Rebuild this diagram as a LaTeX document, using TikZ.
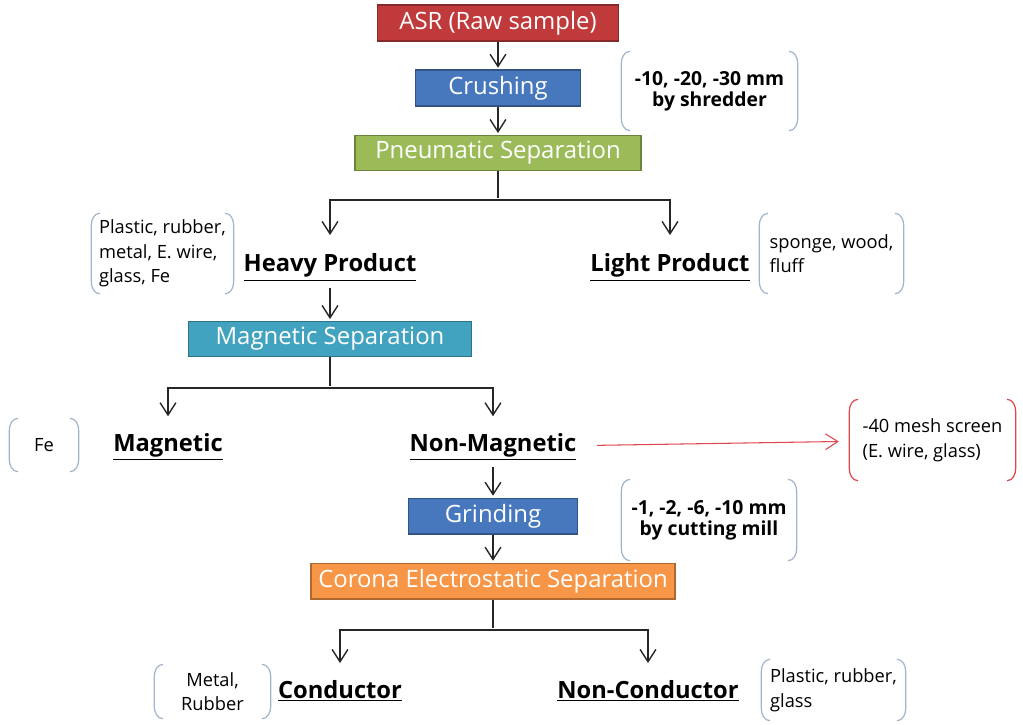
\documentclass[tikz,border=0pt]{standalone}
\usepackage{fontspec}
\setmainfont{Open Sans}
\usetikzlibrary{positioning,arrows.meta}

\definecolor{asrred}{HTML}{C03A3C}
\definecolor{stepblue}{HTML}{4778BE}
\definecolor{stepgreen}{HTML}{9BBB59}
\definecolor{stepteal}{HTML}{41A3C0}
\definecolor{steporange}{HTML}{F79646}
\definecolor{notegray}{HTML}{A3B5CC}
\definecolor{notered}{HTML}{E0474C}

\begin{document}
\begin{tikzpicture}[->,>={Straight Barb[length=7pt,width=9pt]},shorten >=1pt,node distance=1.3cm,line width=0.8pt,
    box/.style={draw=#1!70!black,fill=#1,text=white,minimum height=0.64cm,font=\fontsize{13.6}{15}\selectfont},
    product/.style={font=\fontsize{13.5}{16}\selectfont\bfseries},
    note/.style={align=left,font=\fontsize{10.4}{14}\selectfont},
    boldnote/.style={align=center,font=\fontsize{11}{12}\selectfont\bfseries},
    bracket/.style={-,shorten >=0pt,line width=0.7pt,draw=#1},
    elbow/.style={to path={-| (\tikztotarget)}}]
                \useasboundingbox (-9.96,0.46) rectangle (10.5,-14.02);

                % main chain
                \node[box=asrred, minimum width=4.82cm] (asr) at (0,0) {ASR (Raw sample)};
                \node[box=stepblue, minimum width=3.3cm] (crush) [below of = asr]{Crushing};
                \node[box=stepgreen, minimum width=5.72cm] (pneu) [below of = crush]{Pneumatic Separation};
                \node[] (x) [below of = pneu, yshift = 0.36cm]{};
                \node[product] (heavy) [below of = x, xshift = -3.36cm, yshift = -0.05cm]{\underline{Heavy Product}};
                \node[product] (light) [below of = x, xshift = 3.44cm, yshift = -0.05cm]{\underline{Light Product}};
                \node[box=stepteal, minimum width=5.66cm] (magsep) [below of = heavy, yshift = -0.13cm]{Magnetic Separation};
                \node[] (y) [below of = magsep, yshift = 0.32cm]{};
                \node[product] (magn) [below of = y, xshift = -3.24cm, yshift = 0.12cm]{\underline{Magnetic}};
                \node[product] (nonmag) [below of = y, xshift = 3.26cm, yshift = 0.12cm]{\underline{Non-Magnetic}};
                \node[box=stepblue, minimum width=3.38cm] (grind) [below of = nonmag, yshift = -0.08cm]{Grinding};
                \node[box=steporange, minimum width=7.28cm] (corona) [below of = grind]{Corona Electrostatic Separation};
                \node[] (z) [below of = corona, yshift = 0.32cm]{};
                \node[product] (cond) [below of = z, xshift = -3.06cm, yshift = 0.08cm]{\underline{Conductor}};
                \node[product] (noncond) [below of = z, xshift = 3.1cm, yshift = 0.08cm]{\underline{Non-Conductor}};

                % notes
                \node[boldnote, minimum width=3.5cm, minimum height=1.56cm] (shredder) [right of = crush, xshift = 2.93cm, yshift = -0.06cm]{-10, -20, -30 mm\\by shredder};
                \node[note, minimum width=2.82cm, minimum height=1.58cm] (heavymix) [left of = heavy, xshift = -2.05cm, yshift = 0.28cm]{Plastic, rubber,\\metal, E. wire,\\glass, Fe};
                \node[note, minimum width=2.86cm, minimum height=1.58cm] (lightmix) [right of = light, xshift = 1.93cm, yshift = 0.28cm]{sponge, wood,\\fluff};
                \node[note, minimum width=1.36cm, minimum height=1.04cm] (fe) [left of = magn, xshift = -1.18cm, yshift = 0.04cm]{Fe};
                \node[note, minimum width=3.3cm, minimum height=1.6cm] (mesh) [right of = nonmag, xshift = 7.49cm, yshift = 0.14cm]{-40 mesh screen\\(E. wire, glass)};
                \node[boldnote, minimum width=3.48cm, minimum height=1.6cm] (mill) [right of = grind, xshift = 3.02cm, yshift = -0.08cm]{-1, -2, -6, -10 mm\\by cutting mill};
                \node[note, align=center, minimum width=2.3cm, minimum height=1.06cm] (condmix) [left of = cond, xshift = -1.25cm, yshift = -0.01cm]{Metal,\\Rubber};
                \node[note, minimum width=2.86cm, minimum height=1.2cm] (noncondmix) [right of = noncond, xshift = 2.41cm, yshift = 0.02cm]{Plastic, rubber,\\glass};

                \foreach \n/\c in {shredder/notegray, heavymix/notegray, lightmix/notegray, fe/notegray, mesh/notered, mill/notegray, condmix/notegray, noncondmix/notegray}{
                    \draw[bracket=\c] ([xshift=5pt]\n.north west) to[out=180,in=90] ([yshift=-7pt]\n.north west) -- ([yshift=7pt]\n.south west) to[out=-90,in=180] ([xshift=5pt]\n.south west);
                    \draw[bracket=\c] ([xshift=-5pt]\n.north east) to[out=0,in=90] ([yshift=-7pt]\n.north east) -- ([yshift=7pt]\n.south east) to[out=-90,in=0] ([xshift=-5pt]\n.south east);
                }

                \path[black!85]
                    (asr) edge (crush)
                    (crush) edge (pneu)
                    (pneu) edge[-] (x.center)
                    (x.center) edge[elbow, shorten >=7pt] (heavy)
                    (x.center) edge[elbow, shorten >=7pt] (light)
                    (heavy) edge (magsep)
                    (magsep) edge[-] (y.center)
                    (y.center) edge[elbow, shorten >=6pt] (magn)
                    (y.center) edge[elbow, shorten >=6pt] (nonmag)
                    (nonmag) edge (grind)
                    (grind) edge (corona)
                    (corona) edge[-] (z.center)
                    (z.center) edge[elbow, shorten >=6pt] (cond)
                    (z.center) edge[elbow, shorten >=6pt] (noncond)
                    ;
                \path (nonmag) edge[draw=notered, line width=0.6pt, shorten <=8pt, shorten >=6pt] (mesh);
            \end{tikzpicture}
\end{document}
